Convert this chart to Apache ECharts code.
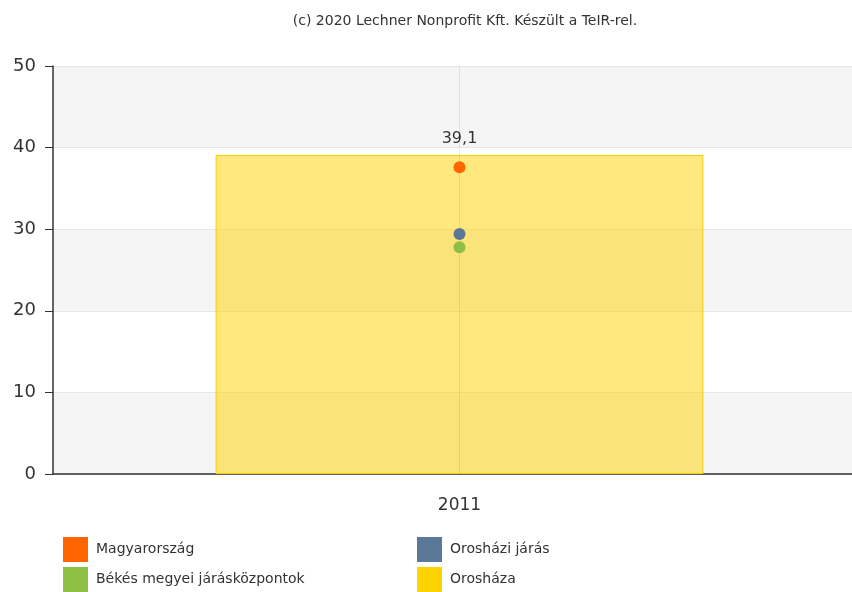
<!DOCTYPE html>
<html>
<head>
<meta charset="utf-8">
<script src="https://cdn.jsdelivr.net/npm/echarts@6/dist/echarts.min.js"></script>
<style>
  html, body { margin: 0; padding: 0; background: #fff; }
  #chart { width: 852px; height: 592px; }
</style>
</head>
<body>
<div id="chart"></div>
<script>
const years = ['2011']
const magyarorszag = [37.6]
const oroshaziJaras = [29.4]
const bekesKozpontok = [27.8]
const oroshaza = [39.1]
const yTicks = { min: 0, max: 50, interval: 10 }

const font = '"DejaVu Sans", Verdana, sans-serif'
const chart = echarts.init(document.getElementById('chart'))

const dot = (name, data, color) => ({
  name,
  type: 'scatter',
  data,
  symbolSize: 12,
  z: 5,
  itemStyle: { color, opacity: 1 },
})

const legendBase = {
  orient: 'vertical',
  top: 537,
  padding: 0,
  itemWidth: 25,
  itemHeight: 25,
  itemGap: 5,
  icon: 'rect',
  textStyle: { fontSize: 14, color: '#333', fontFamily: font, padding: [0, 0, 0, 3] },
}

chart.setOption({
  animation: false,
  textStyle: { fontFamily: font },
  title: {
    text: '(c) 2020 Lechner Nonprofit Kft. Készült a TeIR-rel.',
    left: 460,
    textAlign: 'center',
    top: 9,
    textStyle: { fontSize: 14, fontWeight: 'normal', color: '#333', fontFamily: font },
  },
  legend: [
    Object.assign({}, legendBase, {
      left: 63,
      data: ['Magyarország', 'Békés megyei járásközpontok'],
    }),
    Object.assign({}, legendBase, {
      left: 417,
      data: ['Orosházi járás', { name: 'Orosháza', itemStyle: { color: '#FFD300', opacity: 1, borderWidth: 0 } }],
    }),
  ],
  grid: { left: 53, right: -14, top: 66, bottom: 118, outerBoundsMode: 'none' },
  xAxis: {
    type: 'category',
    data: years,
    axisLine: { lineStyle: { color: '#333', width: 1.5 } },
    axisTick: { show: false },
    axisLabel: { color: '#333', fontSize: 17, margin: 23, fontFamily: font },
  },
  yAxis: {
    type: 'value',
    min: yTicks.min,
    max: yTicks.max,
    interval: yTicks.interval,
    axisLine: { show: true, lineStyle: { color: '#333', width: 1.5 } },
    axisTick: { show: true, length: 8, lineStyle: { color: '#333' } },
    axisLabel: { color: '#333', fontSize: 18, margin: 17, fontFamily: font },
    splitLine: { lineStyle: { color: '#e6e6e6' } },
    splitArea: { show: true, areaStyle: { color: ['#f5f5f5', '#ffffff'] } },
  },
  series: [
    {
      name: 'Orosháza',
      type: 'bar',
      data: oroshaza,
      barWidth: '60%',
      z: 2,
      itemStyle: { color: 'rgba(255, 211, 0, 0.5)', borderColor: '#F5CF00', borderWidth: 1 },
      label: {
        show: true,
        position: 'top',
        distance: 8,
        fontSize: 16,
        color: '#333',
        fontFamily: font,
        formatter: (p) => String(p.value).replace('.', ','),
      },
      markLine: {
        silent: true,
        symbol: 'none',
        label: { show: false },
        lineStyle: { color: 'rgba(0,0,0,0.08)', type: 'solid', width: 1 },
        data: [{ xAxis: 0 }],
      },
    },
    dot('Magyarország', magyarorszag, '#FF6600'),
    dot('Orosházi járás', oroshaziJaras, '#5B7899'),
    dot('Békés megyei járásközpontok', bekesKozpontok, '#8DC044'),
  ],
})
</script>
</body>
</html>
